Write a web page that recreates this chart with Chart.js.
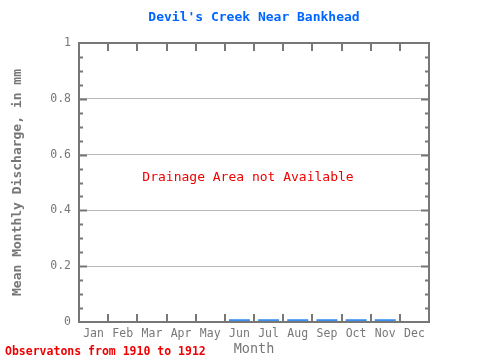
<!DOCTYPE html>
<html>
<head>
<meta charset="utf-8">
<script src="https://cdn.jsdelivr.net/npm/chart.js@4"></script>
<style>
  html, body { margin: 0; padding: 0; background: #fff; }
  #wrap { width: 480px; height: 360px; }
</style>
</head>
<body>
<div id="wrap"><canvas id="chart" width="480" height="360"></canvas></div>
<script>
// Chart data
const months = ['Jan', 'Feb', 'Mar', 'Apr', 'May', 'Jun', 'Jul', 'Aug', 'Sep', 'Oct', 'Nov', 'Dec'];
const discharge = [null, null, null, null, null, 0.01, 0.01, 0.01, 0.01, 0.01, 0.01, null];
const yTicks = [0, 0.2, 0.4, 0.6, 0.8, 1];

const titleText = "Devil's Creek Near Bankhead";
const noteText = 'Drainage Area not Available';
const footText = 'Observatons from 1910 to 1912';

const mono = '"DejaVu Sans Mono", "Liberation Mono", monospace';
const gray = '#777777';

// Frame, inner ticks and texts
const framePlugin = {
  id: 'frame',
  afterDatasetsDraw(chart) {
    const ctx = chart.ctx;
    const area = chart.chartArea;
    const x = chart.scales.x;
    const y = chart.scales.y;
    ctx.save();
    ctx.strokeStyle = gray;
    ctx.lineWidth = 2;

    // category boundary ticks (top and bottom)
    for (let i = 0; i < months.length - 1; i++) {
      const px = Math.round((x.getPixelForValue(i) + x.getPixelForValue(i + 1)) / 2);
      ctx.beginPath();
      ctx.moveTo(px, area.bottom);
      ctx.lineTo(px, area.bottom - 8);
      ctx.moveTo(px, area.top);
      ctx.lineTo(px, area.top + 8);
      ctx.stroke();
    }

    // y ticks, major every 0.2 and minor every 0.05
    for (let k = 1; k < 20; k++) {
      const py = Math.round(y.getPixelForValue(k * 0.05)) + 0.5;
      const len = k % 4 === 0 ? 8 : 4;
      ctx.beginPath();
      ctx.moveTo(area.left, py);
      ctx.lineTo(area.left + len, py);
      ctx.moveTo(area.right, py);
      ctx.lineTo(area.right - len, py);
      ctx.stroke();
    }

    ctx.strokeRect(area.left, area.top, area.right - area.left, area.bottom - area.top);

    // title
    ctx.textAlign = 'center';
    ctx.textBaseline = 'middle';
    ctx.fillStyle = '#0066ff';
    ctx.font = 'bold 13px ' + mono;
    ctx.fillText(titleText, (area.left + area.right) / 2, 18);

    // note in the middle
    ctx.fillStyle = '#ee0000';
    ctx.font = '13px ' + mono;
    ctx.fillText(noteText, (area.left + area.right) / 2 - 6, 178);

    // footer
    ctx.textAlign = 'left';
    ctx.fillStyle = '#ee0000';
    ctx.font = 'bold 11.5px ' + mono;
    ctx.fillText(footText, 5, 352);
    ctx.restore();
  }
};

const ctx = document.getElementById('chart').getContext('2d');
new Chart(ctx, {
  type: 'bar',
  data: {
    labels: months,
    datasets: [{
      data: discharge,
      backgroundColor: '#3a8ff0',
      borderWidth: 0,
      categoryPercentage: 1,
      barPercentage: 0.72
    }]
  },
  options: {
    responsive: false,
    animation: false,
    layout: {
      padding: { top: 43, right: 51, left: 0, bottom: 0 }
    },
    plugins: {
      legend: { display: false },
      title: { display: false },
      tooltip: { enabled: false }
    },
    scales: {
      x: {
        grid: { display: false, drawTicks: false },
        border: { display: false },
        ticks: {
          color: gray,
          padding: 5,
          font: { family: mono, size: 11.5 }
        },
        title: {
          display: true,
          text: 'Month',
          color: gray,
          padding: { top: 0, bottom: 2 },
          font: { family: mono, size: 13.5 }
        },
        afterFit(scale) { scale.height = 38; }
      },
      y: {
        min: 0,
        max: 1,
        afterBuildTicks(scale) {
          scale.ticks = yTicks.map(v => ({ value: v }));
        },
        grid: {
          drawTicks: false,
          color: ctx => (ctx.tick && ctx.tick.value > 0 && ctx.tick.value < 1) ? '#bbbbbb' : 'rgba(0,0,0,0)'
        },
        border: { display: false },
        ticks: {
          color: gray,
          padding: 8,
          font: { family: mono, size: 11.5 },
          callback: v => String(v)
        },
        title: {
          display: true,
          text: 'Mean Monthly Discharge, in mm',
          color: gray,
          padding: { top: 10, bottom: 0 },
          font: { family: mono, size: 13, weight: 'bold' }
        },
        afterFit(scale) { scale.width = 79; }
      }
    }
  },
  plugins: [framePlugin]
});
</script>
</body>
</html>
